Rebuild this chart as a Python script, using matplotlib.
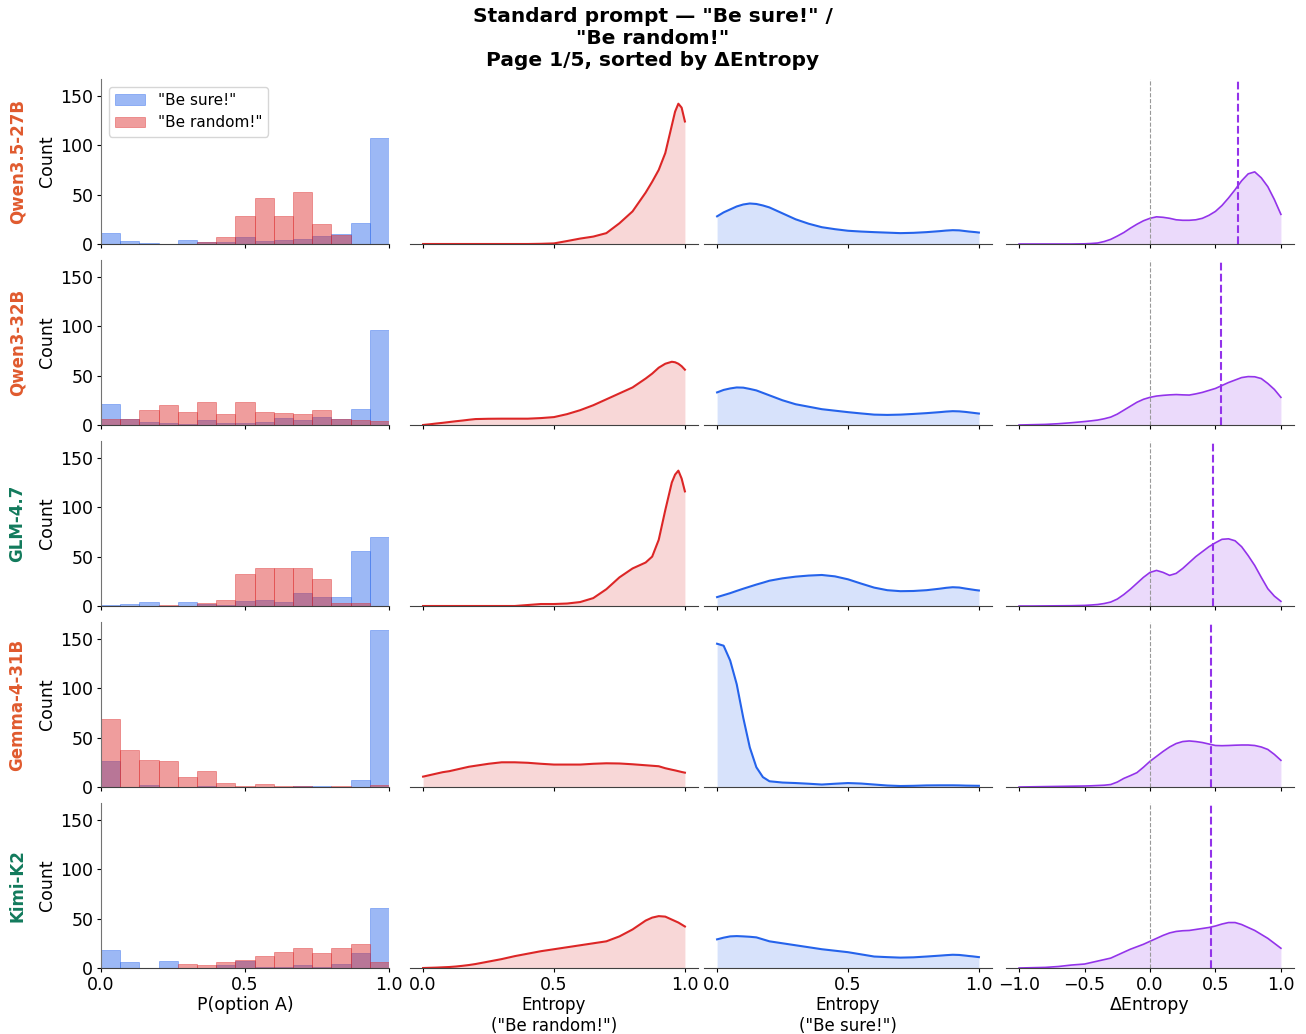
import numpy as np
import matplotlib
matplotlib.use("Agg")
import matplotlib.pyplot as plt

# model rows (top to bottom) and label colours
models = ["Qwen3.5-27B", "Qwen3-32B", "GLM-4.7", "Gemma-4-31B", "Kimi-K2"]
model_colors = ["#e05a2e", "#e05a2e", "#127a5c", "#e05a2e", "#127a5c"]

# histogram of P(option A), 15 bins on [0, 1]
bin_edges = np.linspace(0, 1, 16)
hist_sure = [
    [11, 3, 1, 0, 4, 2, 2, 7, 3, 4, 5, 8, 10, 21, 107],
    [21, 6, 3, 2, 1, 5, 2, 2, 3, 7, 5, 8, 6, 16, 96],
    [1, 2, 4, 0, 4, 2, 1, 5, 6, 4, 13, 9, 9, 56, 70],
    [26, 0, 2, 0, 0, 1, 0, 0, 0, 0, 1, 1, 0, 7, 159],
    [18, 6, 0, 7, 0, 0, 3, 7, 1, 1, 3, 1, 4, 15, 61],
]
hist_random = [
    [0, 0, 0, 0, 0, 2, 7, 28, 47, 28, 53, 20, 9, 0, 0],
    [6, 6, 15, 20, 13, 23, 11, 23, 13, 12, 11, 15, 6, 5, 4],
    [0, 0, 0, 1, 0, 3, 6, 32, 38, 38, 38, 27, 3, 3, 0],
    [69, 37, 27, 26, 10, 16, 4, 1, 3, 1, 1, 0, 1, 0, 2],
    [0, 0, 0, 0, 4, 3, 6, 8, 12, 16, 20, 15, 20, 24, 6],
]

# density curves for entropy (count scale)
ent_x = [0, .025, .05, .075, .1, .125, .15, .175, .2, .25, .3, .35, .4, .45,
         .5, .55, .6, .65, .7, .75, .8, .85, .875, .9, .925, .95, .9625, .975, .9875, 1.0]
ent_random = [
    [0, 0, 0, 0, 0, 0, 0, 0, 0, 0, 0, 0, 0, 0.2, 0.6, 3, 5.5, 7.5, 11, 21, 33, 52, 63, 75, 92, 120, 134, 142, 138, 124],
    [0, 0.7, 1.5, 2.2, 3, 3.8, 4.5, 5.3, 6, 6.3, 6.4, 6.4, 6.4, 7, 8, 11, 15, 20, 26, 32, 38, 47, 52, 58, 62, 64, 63.5, 62, 59.5, 56],
    [0, 0, 0, 0, 0, 0, 0, 0, 0, 0, 0, 0, 1, 2, 2, 2.5, 4, 8, 17, 29, 38, 44, 50, 67, 97, 125, 133, 137, 129, 116],
    [10.5, 12, 13.5, 15, 16, 17.5, 19, 20.5, 21.5, 23.5, 25, 25, 24.5, 23.5, 22.7, 22.7, 22.7, 23.5, 24, 23.8, 23, 22, 21.5, 21, 19, 17.5, 16.8, 16, 15.2, 14.5],
    [0, 0.2, 0.4, 0.7, 1, 1.5, 2.2, 3, 4, 6.5, 9, 12, 14.5, 17, 19, 21, 23, 25, 27, 32, 39, 48, 51, 52.5, 52, 49, 47.5, 46, 44, 42],
]
ent_sure = [
    [28, 32, 35, 38, 40, 41, 40.5, 39, 37, 31, 25, 20.5, 17, 15, 13.4, 12.6, 12, 11.5, 11, 11.3, 12, 13, 13.6, 14, 13.8, 13, 12.6, 12.3, 12, 11.6],
    [33, 35.5, 37, 38, 37.8, 36.5, 35, 32.5, 30, 25, 21, 18.5, 16, 14.5, 13, 11.7, 10.5, 10.2, 10.5, 11.2, 12, 13, 13.6, 14, 13.8, 13.2, 12.8, 12.4, 12, 11.6],
    [9, 11, 13, 15.3, 17.5, 19.6, 21.7, 23.6, 25.6, 28, 29.7, 30.8, 31.4, 30, 27, 22.7, 18.6, 16, 15, 15.2, 16, 17.5, 18.4, 19, 18.7, 17.6, 17.1, 16.6, 16.1, 15.7],
    [145, 143, 128, 104, 70, 40, 20, 10, 5.8, 4.5, 4, 3.3, 2.5, 3.3, 4, 3.5, 2.5, 1.5, 1, 1.2, 1.6, 1.7, 1.7, 1.7, 1.6, 1.4, 1.35, 1.3, 1.25, 1.2],
    [29, 30.7, 32, 32.3, 32, 31.6, 31, 29, 27, 25, 23, 21, 19, 17.5, 16, 13.8, 11.6, 11, 10.5, 10.8, 11.6, 12.5, 13, 13.4, 13.2, 12.5, 12.1, 11.8, 11.4, 11],
]

# delta entropy curves and medians
delta_x = [-1.0, -0.9, -0.8, -0.7, -0.6, -0.5, -0.45, -0.4, -0.35, -0.3, -0.25, -0.2, -0.15, -0.1, -0.05,
           0.0, 0.05, 0.1, 0.15, 0.2, 0.25, 0.3, 0.35, 0.4, 0.45, 0.5, 0.55, 0.6, 0.65, 0.7, 0.75, 0.8,
           0.85, 0.9, 0.95, 1.0]
delta_kde = [
    [0, 0, 0, 0, 0, 0.2, 0.5, 1, 2.5, 4.7, 8, 11.6, 16, 20, 23.5, 26, 27.5, 27, 26, 24.5, 24, 24, 24.5, 26, 29, 33, 39, 46.6, 55, 64, 71, 73, 67, 58, 45, 30],
    [0, 0.3, 0.6, 1.3, 2.3, 3.5, 4.2, 5, 6.3, 8, 11, 15, 19, 23, 26, 28, 29.3, 30, 30.5, 30.8, 30.5, 30.3, 31.5, 33, 35, 37, 40, 43, 45.5, 48, 49, 48.8, 47, 42, 36, 28],
    [0, 0, 0.1, 0.2, 0.3, 0.6, 1, 1.5, 2.5, 4, 7, 11.6, 17, 23, 29, 34, 36, 34, 31, 33, 38, 44, 50, 55, 60, 64, 67.5, 68, 66, 60, 51, 41, 29, 17.5, 10, 4.7],
    [0, 0.2, 0.4, 0.6, 0.8, 1, 1.2, 1.5, 1.8, 2.5, 5, 8.7, 11.5, 14.5, 20, 26, 31, 36, 40.5, 44, 46, 46.6, 46, 45, 43.5, 42, 41.8, 42, 42.3, 42.5, 42.5, 42, 40.5, 38, 33, 27],
    [0, 0.3, 0.6, 1.5, 3, 4, 5.5, 7, 8.5, 10, 13, 16, 19, 21.5, 24, 27, 30, 33, 35.5, 37, 37.7, 38, 39, 40, 41, 42.5, 44.5, 46, 46, 44, 41, 38, 34, 30, 25, 20],
]
delta_median = [0.67, 0.54, 0.485, 0.465, 0.465]

blue = "#2563eb"
red = "#dc2626"
purple = "#9333ea"

fig, axes = plt.subplots(5, 4, figsize=(13.06, 10.34), dpi=100)

# axes placement in pixels
col_left = [101, 410, 704, 1006]
ax_w = 288
row_base = [244, 425, 606, 787, 968]
ax_h = 165
W, H = 1306, 1034

bin_w = bin_edges[1] - bin_edges[0]
for r in range(5):
    for c in range(4):
        ax = axes[r, c]
        ax.set_position([col_left[c] / W, 1 - row_base[r] / H, ax_w / W, ax_h / H])
        ax.set_ylim(0, 167)
        ax.spines["top"].set_visible(False)
        ax.spines["right"].set_visible(False)
        ax.spines["bottom"].set_color("0.25")
        ax.spines["left"].set_color("0.45")
        ax.tick_params(labelsize=12.5, length=3, pad=2.5)
        if c > 0:
            ax.spines["left"].set_visible(False)
            ax.tick_params(left=False, labelleft=False)

    # column 1: histograms
    ax = axes[r, 0]
    ax.bar(bin_edges[:-1], hist_sure[r], width=bin_w, align="edge", color=blue, alpha=0.45,
           edgecolor=blue, linewidth=0.6, label='"Be sure!"')
    ax.bar(bin_edges[:-1], hist_random[r], width=bin_w, align="edge", color=red, alpha=0.45,
           edgecolor=red, linewidth=0.6, label='"Be random!"')
    ax.set_xlim(0, 1)
    ax.set_yticks([0, 50, 100, 150])
    ax.set_ylabel("Count", fontsize=12.5, labelpad=3)
    ax.text(-0.29, 0.5, models[r], transform=ax.transAxes, rotation=90, ha="center", va="center",
            fontsize=12, fontweight="bold", color=model_colors[r])
    if r == 0:
        ax.legend(loc="upper left", fontsize=11)

    # column 2: entropy under "Be random!"
    ax = axes[r, 1]
    ax.plot(ent_x, ent_random[r], color=red, lw=1.5)
    ax.fill_between(ent_x, ent_random[r], color=red, alpha=0.18, lw=0)
    ax.set_xlim(-0.05, 1.05)

    # column 3: entropy under "Be sure!"
    ax = axes[r, 2]
    ax.plot(ent_x, ent_sure[r], color=blue, lw=1.5)
    ax.fill_between(ent_x, ent_sure[r], color=blue, alpha=0.18, lw=0)
    ax.set_xlim(-0.05, 1.05)

    # column 4: delta entropy
    ax = axes[r, 3]
    ax.plot(delta_x, delta_kde[r], color=purple, lw=1.2)
    ax.fill_between(delta_x, delta_kde[r], color=purple, alpha=0.18, lw=0)
    ax.axvline(0, color="0.6", ls="--", lw=0.8)
    ax.axvline(delta_median[r], color=purple, ls="--", lw=1.5)
    ax.set_xlim(-1.1, 1.1)

    for c in range(0, 3):
        axes[r, c].set_xticks([0, 0.5, 1.0])
    axes[r, 3].set_xticks([-1.0, -0.5, 0, 0.5, 1.0])
    if r < 4:
        for c in range(4):
            axes[r, c].tick_params(labelbottom=False)

axes[4, 0].set_xlabel("P(option A)", fontsize=12.5, labelpad=2)
axes[4, 1].set_xlabel('Entropy\n("Be random!")', fontsize=12, labelpad=2)
axes[4, 2].set_xlabel('Entropy\n("Be sure!")', fontsize=12, labelpad=2)
axes[4, 3].set_xlabel("ΔEntropy", fontsize=12.5, labelpad=2)

fig.suptitle('Standard prompt — "Be sure!" /\n"Be random!"\nPage 1/5, sorted by ΔEntropy',
             fontsize=14.5, fontweight="bold", y=0.993, va="top")

fig.savefig("out.png", dpi=100)
